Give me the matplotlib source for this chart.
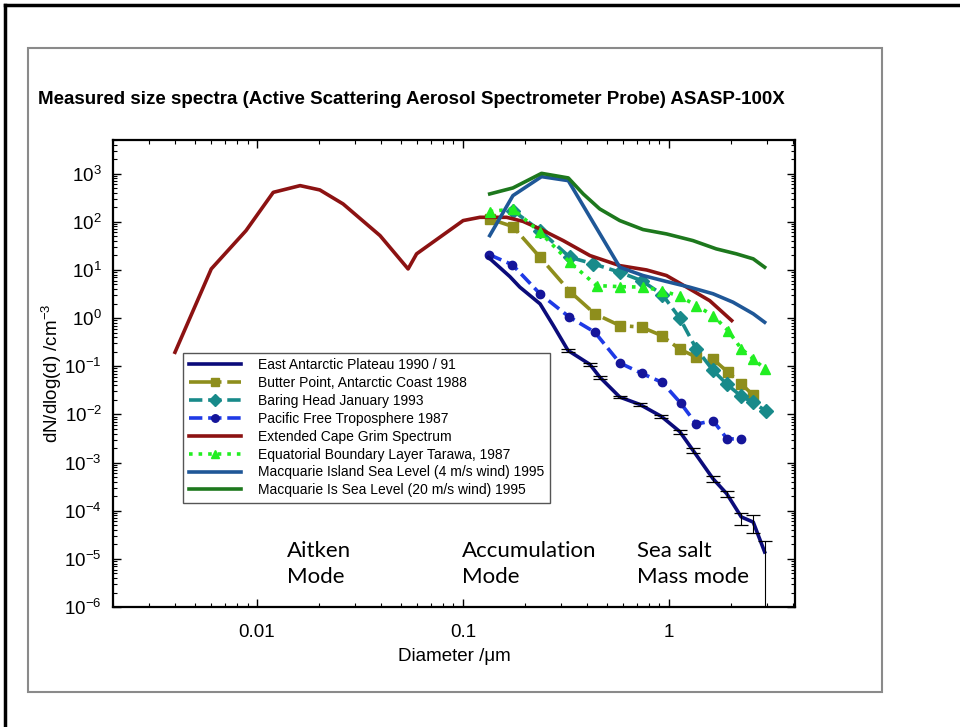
import matplotlib
matplotlib.use('Agg')
import matplotlib.pyplot as plt
from matplotlib.patches import Rectangle
from matplotlib.lines import Line2D
import numpy as np

plt.rcParams['font.family'] = ['Liberation Sans', 'DejaVu Sans']
plt.rcParams['mathtext.fontset'] = 'custom'
plt.rcParams['mathtext.rm'] = 'Liberation Sans'
plt.rcParams['mathtext.it'] = 'Liberation Sans:italic'
plt.rcParams['mathtext.bf'] = 'Liberation Sans:bold'
plt.rcParams['axes.unicode_minus'] = False

# --- data (diameter in um, dN/dlog(d) in cm^-3) ---
grim_d = [0.004, 0.006, 0.00885, 0.012, 0.0162, 0.0202, 0.0262, 0.0396, 0.0542, 0.0596,
          0.1003, 0.121, 0.163, 0.196, 0.237, 0.307, 0.414, 0.578, 0.78, 0.975, 1.22, 1.58, 2.02]
grim_n = [0.195, 10.5, 65.6, 409, 564, 459, 235, 51.7, 10.5, 21.6,
          106, 124, 124, 102, 71, 40.7, 19.9, 12.3, 10, 7.65, 4.4, 2.3, 0.89]

mq20_d = [0.135, 0.175, 0.241, 0.325, 0.384, 0.462, 0.578, 0.75, 0.975, 1.31, 1.70, 2.13, 2.57, 2.92]
mq20_n = [379, 505, 1015, 815, 379, 185, 106, 69, 56, 40.7, 27.4, 21.6, 17, 11.4]

mq4_d = [0.135, 0.175, 0.241, 0.325, 0.578, 0.75, 0.975, 1.26, 1.64, 2.05, 2.57, 2.92]
mq4_n = [51.7, 350, 867, 716, 11.4, 7.65, 5.75, 4.4, 3.2, 2.14, 1.23, 0.82]

tarawa_d = [0.135, 0.175, 0.237, 0.331, 0.446, 0.578, 0.75, 0.922, 1.13, 1.36, 1.64, 1.94, 2.25, 2.57, 2.92]
tarawa_n = [163, 185, 60.5, 14.4, 4.74, 4.5, 4.4, 3.74, 2.85, 1.82, 1.13, 0.55, 0.23, 0.143, 0.089]

baring_d = [0.175, 0.237, 0.331, 0.43, 0.578, 0.737, 0.93, 1.13, 1.36, 1.64, 1.92, 2.24, 2.57, 2.96]
baring_n = [171, 65.6, 18.3, 13.4, 8.96, 6.0, 3.09, 1.0, 0.23, 0.082, 0.042, 0.024, 0.0177, 0.0117]

butter_d = [0.135, 0.175, 0.237, 0.331, 0.437, 0.578, 0.737, 0.922, 1.13, 1.36, 1.64, 1.94, 2.25, 2.57]
butter_n = [115, 79.6, 18.3, 3.56, 1.23, 0.70, 0.65, 0.435, 0.226, 0.155, 0.14, 0.075, 0.043, 0.025]

pacific_d = [0.134, 0.174, 0.237, 0.328, 0.437, 0.578, 0.74, 0.93, 1.14, 1.36, 1.64, 1.92, 2.24]
pacific_n = [20.9, 12.8, 3.19, 1.06, 0.51, 0.117, 0.071, 0.046, 0.0173, 0.0063, 0.0074, 0.0031, 0.0031]

east_d = [0.133, 0.169, 0.189, 0.237, 0.275, 0.324, 0.414, 0.463, 0.578, 0.723, 0.92, 1.13, 1.31,
          1.64, 1.91, 2.25, 2.57, 2.92]
east_n = [18.3, 7.3, 4.4, 1.98, 0.70, 0.213, 0.109, 0.059, 0.0229, 0.0161, 0.0091, 0.0044, 0.0018,
          4.6e-4, 2.26e-4, 7.4e-5, 5.8e-5, 1.39e-5]
# error bar limits from the 6th point on
east_hi = [0.23, 0.115, 0.063, 0.0245, 0.0172, 0.0098, 0.0048, 0.0020, 5.2e-4, 2.6e-4, 8.8e-5, 8.0e-5, 2.4e-5]
east_lo = [0.20, 0.103, 0.055, 0.0214, 0.0150, 0.0085, 0.0040, 0.0016, 4.0e-4, 1.95e-4, 5.0e-5, 3.4e-5, 1e-7]

labels = ['East Antarctic Plateau 1990 / 91',
          'Butter Point, Antarctic Coast 1988',
          'Baring Head January 1993',
          'Pacific Free Troposphere 1987',
          'Extended Cape Grim Spectrum',
          'Equatorial Boundary Layer Tarawa, 1987',
          'Macquarie Island Sea Level (4 m/s wind) 1995',
          'Macquarie Is Sea Level (20 m/s wind) 1995']

yexp = list(range(-6, 4))
ytick_labels = ['$10^{%d}$' % k for k in yexp]

fig = plt.figure(figsize=(9.6, 7.27), dpi=100)

# slide border and picture frame
fig.add_artist(Line2D([5/960, 5/960], [0, 1 - 5/727], color='black', lw=2.5))
fig.add_artist(Line2D([5/960, 1], [1 - 5/727, 1 - 5/727], color='black', lw=2.5))
fig.add_artist(Rectangle((28/960, 1 - 692/727), 854/960, 644/727, fill=False,
                         edgecolor='#8a8a8a', lw=1.5))

fig.text(38/960, 1 - 100/727,
         'Measured size spectra (Active Scattering Aerosol Spectrometer Probe) ASASP-100X',
         fontsize=13.5, fontweight='bold', va='center', ha='left')

ax = fig.add_axes([113/960, 1 - 607/727, 682/960, 467/727])
lw = 2.6

ax.plot(east_d, east_n, color='#0b0b7a', lw=lw, label=labels[0], zorder=5)
ax.errorbar(east_d[5:], east_n[5:],
            yerr=[np.array(east_n[5:]) - np.array(east_lo), np.array(east_hi) - np.array(east_n[5:])],
            fmt='none', ecolor='black', elinewidth=0.8, capsize=5, capthick=0.9, zorder=6)
ax.plot(butter_d, butter_n, color='#8e8e1c', lw=lw, ls='-.', marker='s', ms=7, label=labels[1])
ax.plot(baring_d, baring_n, color='#188a8a', lw=lw, ls='--', marker='D', ms=7, label=labels[2])
ax.plot(pacific_d, pacific_n, color='#1f3ae6', lw=lw, ls='--', marker='o', ms=6,
        mfc='#15159a', mec='#15159a', label=labels[3])
ax.plot(grim_d, grim_n, color='#8c1212', lw=lw, label=labels[4])
ax.plot(tarawa_d, tarawa_n, color='#22ee22', lw=lw, ls=':', marker='^', ms=7, label=labels[5])
ax.plot(mq4_d, mq4_n, color='#1f5797', lw=lw, label=labels[6])
ax.plot(mq20_d, mq20_n, color='#1d781d', lw=lw, label=labels[7])

ax.set_xscale('log')
ax.set_yscale('log')
ax.set_xlim(0.002, 4.1)
ax.set_ylim(1e-6, 5e3)
ax.set_yticks([10.0**k for k in yexp])
ax.set_yticklabels(ytick_labels)
ax.set_xticks([0.01, 0.1, 1])
ax.set_xticklabels(['0.01', '0.1', '1'])
ax.tick_params(which='both', direction='in', top=True, right=True, labelsize=13.5)
ax.tick_params(which='major', length=6, width=1)
ax.tick_params(which='minor', length=3, width=0.8)
ax.tick_params(axis='x', pad=12)
ax.tick_params(axis='y', pad=8)
for s in ax.spines.values():
    s.set_linewidth(1.6)

ax.set_xlabel('Diameter /\u03bcm', fontsize=13.5, labelpad=5)
ax.set_ylabel('dN/dlog(d) /cm$^{-3}$', fontsize=13.5, labelpad=0)

leg = ax.legend(loc='lower left', bbox_to_anchor=(0.1026, 0.223), borderaxespad=0,
                fontsize=10, handlelength=3.8, handletextpad=1.2, labelspacing=0.28,
                borderpad=0.4, fancybox=False, edgecolor='#555555', framealpha=1,
                markerscale=0.9)
leg.get_frame().set_linewidth(1.0)

mode_font = ['Lato', 'DejaVu Sans']
for xf, txt in [(0.255, 'Aitken\nMode'), (0.512, 'Accumulation\nMode'), (0.768, 'Sea salt\nMass mode')]:
    ax.text(xf, 0.092, txt, transform=ax.transAxes, fontsize=16, family=mode_font,
            ha='left', va='center', linespacing=1.35)

fig.savefig('out.png', dpi=100)
